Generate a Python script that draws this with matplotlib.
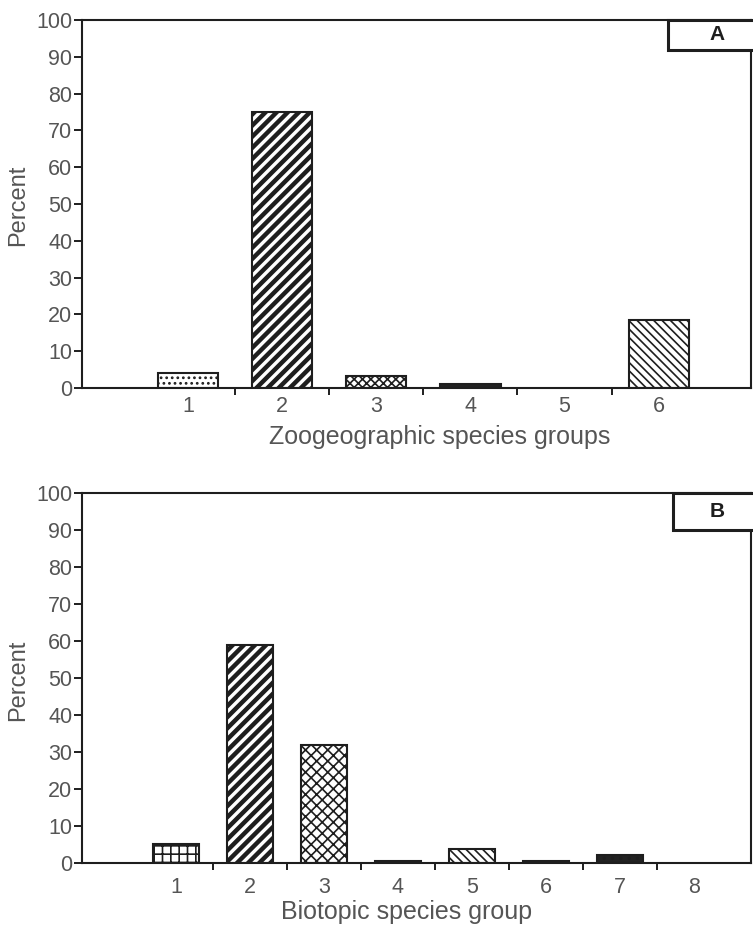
import matplotlib.pyplot as plt
from matplotlib.patches import Rectangle

plt.rcParams['font.family'] = ['Liberation Sans', 'DejaVu Sans']

# Panel A - zoogeographic species groups
groups_a = [1, 2, 3, 4, 5, 6]
percent_a = [4.1, 75.0, 3.3, 1.0, 0.0, 18.5]
hatch_a = ['...', '///', 'xxxx', '', '', '\\\\\\\\']
face_a = ['white', 'white', 'white', '#222222', 'white', 'white']

# Panel B - biotopic species groups
groups_b = [1, 2, 3, 4, 5, 6, 7, 8]
percent_b = [5.2, 58.8, 31.8, 0.6, 3.8, 0.6, 2.1, 0.0]
hatch_b = ['++', '///', 'xxx', '', '\\\\\\\\', '', '..', '']
face_b = ['white', 'white', 'white', '#222222', 'white', '#222222', '#222222', 'white']

yticks = list(range(0, 101, 10))

text_col = '#555555'
line_col = '#1e1e1e'
W, H = 753, 933

fig = plt.figure(figsize=(W / 100, H / 100), dpi=100)


def px_axes(left, top, right, bottom):
    return fig.add_axes([left / W, 1 - bottom / H, (right - left) / W, (bottom - top) / H])


ax_a = px_axes(82, 20, 751, 388)
ax_b = px_axes(82, 493, 751, 863)


def draw_panel(ax, cats, vals, hatches, faces, xlim, width, pad):
    for c, v, h, f in zip(cats, vals, hatches, faces):
        if v > 0:
            bars = ax.bar(c, v, width=width, color=f, edgecolor=line_col,
                          hatch=h, linewidth=1.5)
            lw = 3.2 if h == '///' else 1.2
            for b in bars:
                try:
                    b.set_hatch_linewidth(lw)
                except AttributeError:
                    pass
    ax.set_xlim(*xlim)
    ax.set_ylim(0, 100)
    ax.set_yticks(yticks)
    ax.set_yticklabels([str(t) for t in yticks], fontsize=15.5, color=text_col)
    ax.set_xticks(cats)
    ax.set_xticklabels([str(c) for c in cats], fontsize=15.5, color=text_col)
    ax.set_xticks([c + 0.5 for c in cats[:-1]], minor=True)
    ax.tick_params(axis='x', which='major', length=0, pad=pad)
    ax.tick_params(axis='x', which='minor', length=5, width=1.4, color=line_col)
    ax.tick_params(axis='y', length=6, width=1.4, color=line_col, pad=1)
    for s in ax.spines.values():
        s.set_color(line_col)
        s.set_linewidth(1.5)


draw_panel(ax_a, groups_a, percent_a, hatch_a, face_a, (-0.125, 6.98), 0.64, 6)
draw_panel(ax_b, groups_b, percent_b, hatch_b, face_b, (-0.27, 8.77), 0.61, 10)

# y labels
for yc in (205, 680):
    fig.text(18 / W, 1 - yc / H, 'Percent', rotation=90, fontsize=17,
             color=text_col, ha='center', va='center')

# x labels
fig.text(440 / W, 1 - 437 / H, 'Zoogeographic species groups', fontsize=18,
         color=text_col, ha='center', va='center')
fig.text(407 / W, 1 - 912 / H, 'Biotopic species group', fontsize=18,
         color=text_col, ha='center', va='center')

# panel tags in boxes running off the right edge
for tag, left, top, bottom in (('A', 668, 20, 50), ('B', 673, 493, 530)):
    fig.patches.append(Rectangle((left / W, 1 - bottom / H), (W + 10 - left) / W,
                                 (bottom - top) / H, transform=fig.transFigure,
                                 facecolor='white', edgecolor=line_col,
                                 linewidth=2.2, clip_on=False))
    fig.text(717 / W, 1 - (top + bottom) / 2 / H, tag, fontsize=15,
             fontweight='bold', color=line_col, ha='center', va='center')

fig.savefig('out.png', dpi=100)
